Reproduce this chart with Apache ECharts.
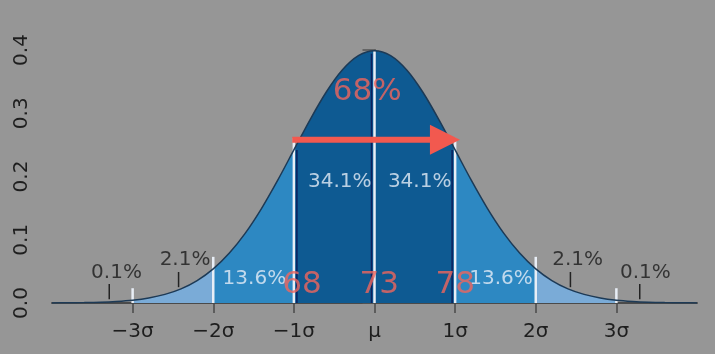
<!DOCTYPE html>
<html>
<head>
<meta charset="utf-8">
<script src="https://cdn.jsdelivr.net/npm/echarts@6/dist/echarts.min.js"></script>
<style>
html,body{margin:0;padding:0;background:#969696;}
#main{width:715px;height:354px;}
</style>
</head>
<body>
<div id="main"></div>
<script>
// 曲线采样点（单位：σ）及读出的密度值
var sigmaX = [-4,-3.8,-3.6,-3.4,-3.2,-3,-2.8,-2.6,-2.4,-2.2,-2,-1.8,-1.6,-1.4,-1.2,-1,-0.8,-0.6,-0.4,-0.2,0,
	0.2,0.4,0.6,0.8,1,1.2,1.4,1.6,1.8,2,2.2,2.4,2.6,2.8,3,3.2,3.4,3.6,3.8,4];
var density = [0.0001,0.0003,0.0006,0.0012,0.0024,0.0044,0.0079,0.0136,0.0224,0.0355,0.0540,0.0790,0.1109,0.1497,0.1942,0.2420,0.2897,0.3332,0.3683,0.3910,0.3989,
	0.3910,0.3683,0.3332,0.2897,0.2420,0.1942,0.1497,0.1109,0.0790,0.0540,0.0355,0.0224,0.0136,0.0079,0.0044,0.0024,0.0012,0.0006,0.0003,0.0001];

// x轴刻度
var tickValues = [-3,-2,-1,0,1,2,3];
var tickLabels = ['\u22123\u03c3','\u22122\u03c3','\u22121\u03c3','\u03bc','1\u03c3','2\u03c3','3\u03c3'];

// 分段边界
var bandFrom = [-3,-2,-1,1,2];
var bandTo   = [-2,-1,1,2,3];

// 百分比标注
var pctText = ['0.1%','2.1%','13.6%','34.1%','34.1%','13.6%','2.1%','0.1%'];
var pctX    = [-3.2,-2.35,-1.49,-0.43,0.56,1.57,2.52,3.36];
var pctY    = [0.047,0.068,0.038,0.191,0.191,0.038,0.068,0.047];

// 小指示线
var markX    = [-3.29,-2.43,2.43,3.29];
var markLow  = [0.006,0.025,0.025,0.006];
var markHigh = [0.030,0.049,0.049,0.030];

// 红色大字
var bigText = ['68%','68','73','78'];
var bigX    = [-0.09,-0.90,0.06,1.0];
var bigY    = [0.334,0.028,0.028,0.028];

// 箭头
var arrowFrom = [-1.02,0.258];
var arrowTo   = [1.06,0.258];

var bandColors = ['#7aabd7','#2d88c2','#0e5a92','#2d88c2','#7aabd7'];

function densityAt(x){
	for(var i=0;i<sigmaX.length;i++){
		if(Math.abs(sigmaX[i]-x)<1e-6) return density[i];
	}
	return 0;
}

var curve = sigmaX.map(function(x,i){ return [x,density[i]]; });

var series = [];
// 分段填充
for(var b=0;b<bandFrom.length;b++){
	series.push({
		type:'line', smooth:0.3, showSymbol:false, silent:true,
		data: curve.filter(function(p){ return p[0]>=bandFrom[b]-1e-6 && p[0]<=bandTo[b]+1e-6; }),
		lineStyle:{width:0},
		areaStyle:{color:bandColors[b],opacity:1},
		z:1
	});
}
// 分界竖线
series.push({
	type:'custom', silent:true, z:3,
	data: tickValues.map(function(x){ return [x,densityAt(x)]; }),
	renderItem:function(params,api){
		var x=api.value(0);
		var p0=api.coord([x,0]);
		var p1=api.coord([x,api.value(1)]);
		var ext = x===0 ? 0 : 12;
		var kids=[{
			type:'line',
			shape:{x1:p0[0],y1:p0[1],x2:p0[0],y2:p1[1]-ext},
			style:{stroke:'#e8eef6',lineWidth:2.5}
		}];
		var off = x===-1 ? 3 : (x===0 || x===1 ? -3 : null);
		if(off!==null){
			kids.push({
				type:'line',
				shape:{x1:p0[0]+off,y1:p0[1],x2:p0[0]+off,y2:p1[1]+(x===0?3:0)},
				style:{stroke:'#0b1f5e',lineWidth:1.5}
			});
		}
		return {type:'group',children:kids};
	}
});
// 曲线
series.push({
	type:'line', smooth:0.3, showSymbol:false, silent:true, data:curve,
	lineStyle:{color:'#1d3a56',width:1.5}, z:4
});
// 小指示线
series.push({
	type:'custom', silent:true, z:4,
	data: markX.map(function(x,i){ return [x,markLow[i],markHigh[i]]; }),
	renderItem:function(params,api){
		var a=api.coord([api.value(0),api.value(1)]);
		var c=api.coord([api.value(0),api.value(2)]);
		return {type:'line',shape:{x1:a[0],y1:a[1],x2:c[0],y2:c[1]},style:{stroke:'#222',lineWidth:1.5}};
	}
});
// 百分比文字
series.push({
	type:'scatter', silent:true, symbolSize:0, z:5,
	data: pctText.map(function(t,i){
		var light = (t==='13.6%' || t==='34.1%');
		return {value:[pctX[i],pctY[i]],name:t,label:{color: light ? '#e6eef7' : '#1a1a1a'}};
	}),
	label:{show:true,position:'inside',formatter:'{b}',fontFamily:'DejaVu Sans',fontSize:20}
});
// 箭头
series.push({
	type:'custom', silent:true, z:6,
	data:[[arrowFrom[0],arrowFrom[1],arrowTo[0],arrowTo[1]]],
	renderItem:function(params,api){
		var s=api.coord([api.value(0),api.value(1)]);
		var e=api.coord([api.value(2),api.value(3)]);
		var head=30, half=15;
		return {type:'group',children:[
			{type:'line',shape:{x1:s[0],y1:s[1],x2:e[0]-head+2,y2:e[1]},style:{stroke:'#f2594f',lineWidth:6}},
			{type:'polygon',shape:{points:[[e[0]-head,e[1]-half],[e[0],e[1]],[e[0]-head,e[1]+half]]},style:{fill:'#f2594f'}}
		]};
	}
});
// 红色大字
series.push({
	type:'scatter', silent:true, symbolSize:0, z:7,
	data: bigText.map(function(t,i){ return {value:[bigX[i],bigY[i]],name:t}; }),
	label:{show:true,position:'inside',formatter:'{b}',fontFamily:'DejaVu Sans',fontSize:31,color:'#f0655c'}
});

var chart = echarts.init(document.getElementById('main'));
chart.setOption({
	backgroundColor:'#969696',
	animation:false,
	grid:{left:52,right:18,top:50,bottom:51},
	xAxis:{
		type:'value', min:-4, max:4,
		axisLine:{show:true,onZero:false,lineStyle:{color:'#4a4a4a',width:2}},
		axisTick:{show:true,customValues:tickValues,length:10,lineStyle:{color:'#4a4a4a',width:1.5}},
		axisLabel:{customValues:tickValues,margin:19,fontFamily:'DejaVu Sans',fontSize:20,color:'#1e1e1e',
			formatter:function(v){ var i=tickValues.indexOf(v); return i>=0?tickLabels[i]:''; }},
		splitLine:{show:false}
	},
	yAxis:{
		type:'value', min:0, max:0.4, interval:0.1,
		axisLine:{show:true,lineStyle:{color:'#555',width:2}},
		axisTick:{show:true,length:12,lineStyle:{color:'#555',width:1.5}},
		axisLabel:{rotate:90,margin:20,fontFamily:'DejaVu Sans',fontSize:20,color:'#1e1e1e',
			formatter:function(v){ return v.toFixed(1); }},
		splitLine:{show:false}
	},
	series:series
});
</script>
</body>
</html>
